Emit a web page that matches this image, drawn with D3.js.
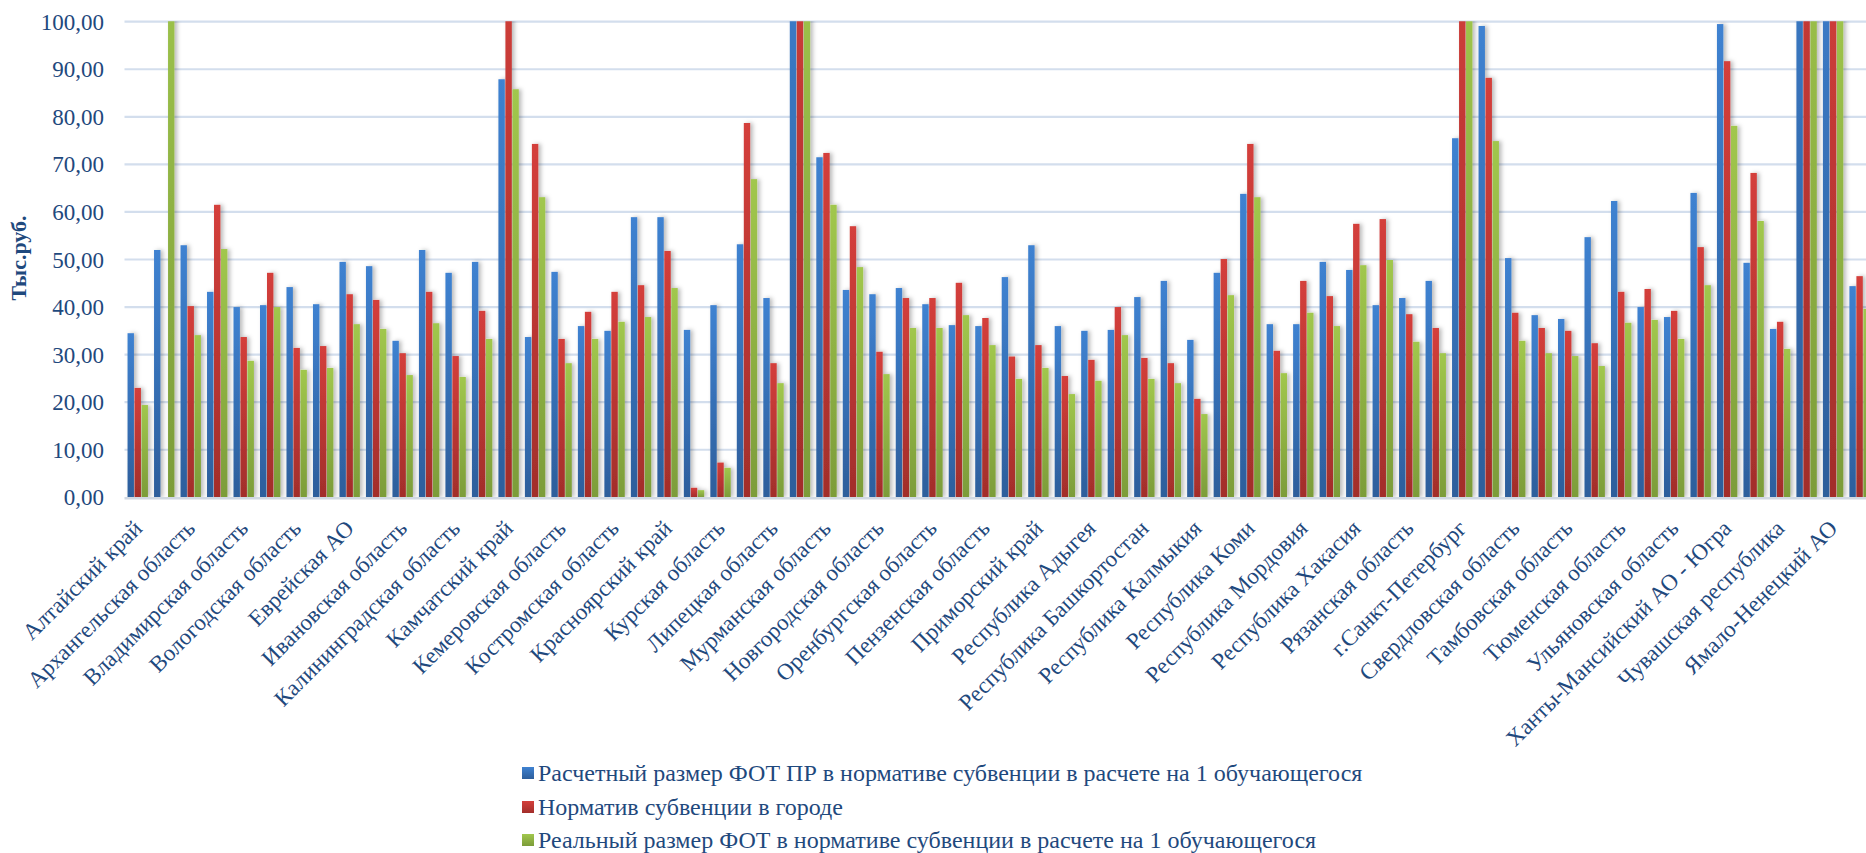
<!DOCTYPE html>
<html>
<head>
<meta charset="utf-8">
<script src="https://cdn.jsdelivr.net/npm/d3@7"></script>
<style>
  html, body { margin: 0; padding: 0; background: #ffffff; }
  svg { display: block; }
  text { font-family: "Liberation Serif", "Times New Roman", serif; fill: #1F497D; }
</style>
</head>
<body>
<svg id="chart" width="1866" height="853"></svg>
<script>
// ---- Data ----
const categories = [
  "Алтайский край", "Амурская область", "Архангельская область", "Астраханская область",
  "Владимирская область", "Волгоградская область", "Вологодская область", "Воронежская область",
  "Еврейская АО", "Забайкальский край", "Ивановская область", "Иркутская область",
  "Калининградская область", "Калужская область", "Камчатский край", "Карачаево-Черкесская Республика",
  "Кемеровская область", "Кировская область", "Костромская область", "Краснодарский край",
  "Красноярский край", "Курганская область", "Курская область", "Ленинградская область",
  "Липецкая область", "Магаданская область", "Мурманская область", "Нижегородская область",
  "Новгородская область", "Омская область", "Оренбургская область", "Орловская область",
  "Пензенская область", "Пермский край", "Приморский край", "Псковская область",
  "Республика Адыгея", "Республика Алтай", "Республика Башкортостан", "Республика Бурятия",
  "Республика Калмыкия", "Республика Карелия", "Республика Коми", "Республика Марий Эл",
  "Республика Мордовия", "Республика Татарстан", "Республика Хакасия", "Ростовская область",
  "Рязанская область", "Саратовская область", "г.Санкт-Петербург", "Сахалинская область",
  "Свердловская область", "Смоленская область", "Тамбовская область", "Томская область",
  "Тюменская область", "Удмуртская Республика", "Ульяновская область", "Хабаровский край",
  "Ханты-Мансийский АО - Югра", "Челябинская область", "Чувашская республика", "Чукотский АО",
  "Ямало-Ненецкий АО", "Ярославская область"
];

const seriesNames = [
  "Расчетный размер ФОТ ПР в нормативе субвенции в расчете на 1 обучающегося",
  "Норматив субвенции в городе",
  "Реальный размер ФОТ в нормативе субвенции в расчете на 1 обучающегося"
];

const fotCalc = [
  34.5, 52.0, 53.0, 43.2, 40.0, 40.4, 44.2, 40.6, 49.5, 48.6, 32.9, 52.0,
  47.2, 49.5, 87.9, 33.7, 47.4, 36.0, 35.0, 58.9, 58.9, 35.2, 40.4, 53.2,
  41.9, 130.0, 71.5, 43.6, 42.7, 44.0, 40.6, 36.2, 36.0, 46.3, 53.0, 36.0,
  35.0, 35.2, 42.1, 45.5, 33.1, 47.2, 63.8, 36.4, 36.4, 49.5, 47.8, 40.4,
  41.9, 45.5, 75.5, 99.1, 50.3, 38.3, 37.5, 54.7, 62.3, 40.0, 37.9, 64.0,
  99.5, 49.3, 35.4, 150.0, 130.0, 44.4
];

const normCity = [
  23.0, 0, 40.2, 61.5, 33.7, 47.2, 31.4, 31.8, 42.7, 41.5, 30.3, 43.2,
  29.7, 39.2, 120.0, 74.3, 33.3, 39.0, 43.2, 44.6, 51.8, 2.0, 7.3, 78.7,
  28.2, 130.0, 72.4, 57.0, 30.6, 41.9, 41.9, 45.1, 37.7, 29.6, 32.0, 25.5,
  28.9, 40.0, 29.3, 28.2, 20.7, 50.1, 74.3, 30.8, 45.5, 42.3, 57.5, 58.5,
  38.5, 35.6, 120.0, 88.2, 38.8, 35.6, 35.0, 32.4, 43.2, 43.8, 39.2, 52.6,
  91.7, 68.2, 36.9, 150.0, 120.0, 46.5
];

const fotReal = [
  19.4, 120.0, 34.1, 52.2, 28.7, 40.0, 26.8, 27.2, 36.4, 35.4, 25.7, 36.6,
  25.3, 33.3, 85.8, 63.1, 28.2, 33.3, 36.9, 37.9, 44.0, 1.5, 6.2, 66.9,
  24.0, 120.0, 61.5, 48.4, 25.9, 35.6, 35.6, 38.3, 32.0, 24.9, 27.2, 21.7,
  24.5, 34.1, 24.9, 24.0, 17.5, 42.5, 63.1, 26.1, 38.8, 36.0, 48.8, 49.9,
  32.7, 30.3, 110.0, 74.9, 32.9, 30.3, 29.7, 27.6, 36.7, 37.3, 33.3, 44.6,
  78.1, 58.1, 31.2, 130.0, 110.0, 39.6
];

const yTicks = [0, 10, 20, 30, 40, 50, 60, 70, 80, 90, 100];
const yTitle = "Тыс.руб.";

// ---- Layout ----
const W = 1866, H = 853;
const plotLeft = 124.5, plotTop = 21.7, plotBottom = 497.3;
const step = 26.49;
const nCat = categories.length;
const SERIF = "'Liberation Serif', 'Times New Roman', serif";

const svg = d3.select("#chart");
const defs = svg.append("defs");

const palette = [
  { top: "#3F82D1", bottom: "#2D5E9B" },
  { top: "#D43F3B", bottom: "#A22E2B" },
  { top: "#A1C74D", bottom: "#7C9C39" }
];
palette.forEach((c, i) => {
  const g = defs.append("linearGradient").attr("id", "grad" + i)
    .attr("x1", 0).attr("y1", 0).attr("x2", 0).attr("y2", 1);
  g.append("stop").attr("offset", "0%").attr("stop-color", c.top);
  g.append("stop").attr("offset", "100%").attr("stop-color", c.bottom);
});

const shadow = defs.append("filter").attr("id", "shadow")
  .attr("x", "-50%").attr("y", "-5%").attr("width", "250%").attr("height", "115%");
shadow.append("feDropShadow").attr("dx", 2.5).attr("dy", 0).attr("stdDeviation", 2)
  .attr("flood-color", "#000").attr("flood-opacity", 0.28);

defs.append("clipPath").attr("id", "plotclip")
  .append("rect").attr("x", plotLeft).attr("y", plotTop - 0.5)
  .attr("width", W - plotLeft).attr("height", plotBottom - plotTop + 0.5);

// ---- Scales ----
const x = d3.scaleBand().domain(categories)
  .range([plotLeft, plotLeft + nCat * step])
  .paddingInner(0.2072).paddingOuter(0.1036);
const xs = d3.scaleBand().domain([0, 1, 2]).range([0, x.bandwidth()]).padding(0);
const y = d3.scaleLinear().domain([0, 100]).range([plotBottom, plotTop]);

const locale = d3.formatLocale({ decimal: ",", thousands: " ", grouping: [3], currency: ["", ""] });
const fmt = locale.format(".2f");

// ---- Gridlines ----
const grid = svg.append("g");
yTicks.filter(t => t > 0).forEach(t => {
  grid.append("line")
    .attr("x1", plotLeft).attr("x2", W)
    .attr("y1", y(t)).attr("y2", y(t))
    .attr("stroke", "#D3DEED").attr("stroke-width", 2.2);
});

// ---- Bars ----
const seriesData = [fotCalc, normCity, fotReal];
const barsG = svg.append("g").attr("clip-path", "url(#plotclip)");
categories.forEach((cat, i) => {
  const g = barsG.append("g").attr("transform", `translate(${x(cat)},0)`)
    .attr("filter", "url(#shadow)");
  seriesData.forEach((arr, s) => {
    const v = arr[i];
    if (!v) return;
    g.append("rect")
      .attr("x", xs(s) + 0.3)
      .attr("width", xs.bandwidth() - 0.6)
      .attr("y", y(v))
      .attr("height", y(0) - y(v))
      .attr("fill", `url(#grad${s})`);
  });
});

// ---- Axis line at zero ----
svg.append("line")
  .attr("x1", plotLeft).attr("x2", W)
  .attr("y1", y(0) + 1).attr("y2", y(0) + 1)
  .attr("stroke", "#D0D8E2").attr("stroke-width", 2.5);

// ---- Y axis labels ----
const yAxis = d3.axisLeft(y).tickValues(yTicks).tickFormat(fmt).tickSize(0).tickPadding(0);
const yAxisG = svg.append("g").attr("transform", `translate(${104},0)`).call(yAxis)
  .attr("font-family", SERIF);
yAxisG.select(".domain").remove();
yAxisG.selectAll("text")
  .attr("font-size", 23)
  .attr("fill", "#1F497D")
  .attr("dy", "0.33em")
  .style("font-family", SERIF);

svg.append("text")
  .attr("transform", `translate(26,258) rotate(-90)`)
  .attr("text-anchor", "middle")
  .attr("font-size", 22)
  .attr("font-weight", "bold")
  .style("font-family", SERIF)
  .text(yTitle);

// ---- X axis labels (every other category) ----
const xAxis = d3.axisBottom(x)
  .tickValues(categories.filter((c, i) => i % 2 === 0))
  .tickSize(0).tickPadding(0);
const xAxisG = svg.append("g").attr("transform", `translate(0,${524})`).call(xAxis)
  .attr("font-family", SERIF);
xAxisG.select(".domain").remove();
xAxisG.selectAll("text")
  .attr("font-size", 23)
  .attr("fill", "#1F497D")
  .attr("text-anchor", "end")
  .attr("x", 0).attr("y", 0)
  .attr("dy", "0.35em")
  .attr("transform", "rotate(-45)")
  .style("font-family", SERIF);

// ---- Legend ----
const legend = svg.append("g");
const legendY = [773, 807, 840];
seriesNames.forEach((name, i) => {
  legend.append("rect")
    .attr("x", 522).attr("y", legendY[i] - 6)
    .attr("width", 12).attr("height", 12)
    .attr("fill", `url(#grad${i})`);
  legend.append("text")
    .attr("x", 538).attr("y", legendY[i])
    .attr("dy", "0.35em")
    .attr("font-size", 24)
    .style("font-family", SERIF)
    .text(name);
});
</script>
</body>
</html>
